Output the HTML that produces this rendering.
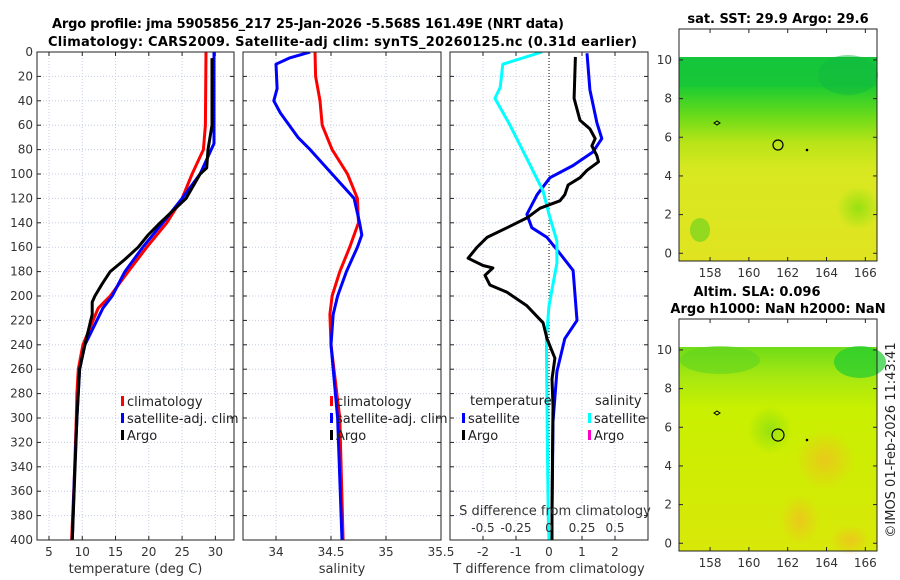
<!DOCTYPE html>
<html><head><meta charset="utf-8">
<style>
html,body{margin:0;padding:0;background:#fff;}
svg{display:block;font-family:"DejaVu Sans","Liberation Sans",sans-serif;}
.tk{font-size:12px;fill:#333;}
.ttl{font-size:13px;font-weight:bold;fill:#000;}
.lg{font-size:13px;fill:#222;}
</style></head>
<body>
<svg id="fig" width="900" height="580" viewBox="0 0 900 580" xmlns="http://www.w3.org/2000/svg">
<defs>
<clipPath id="c1"><rect x="37" y="52" width="197" height="488"/></clipPath>
<clipPath id="c2"><rect x="243" y="52" width="198" height="488"/></clipPath>
<clipPath id="c3"><rect x="450" y="52" width="198" height="488"/></clipPath>
<radialGradient id="or1" cx="0.5" cy="0.5" r="0.5"><stop offset="0" stop-color="#f0c020" stop-opacity="0.8"/><stop offset="1" stop-color="#f0c020" stop-opacity="0"/></radialGradient>
<radialGradient id="gr1" cx="0.5" cy="0.5" r="0.5"><stop offset="0" stop-color="#90e010" stop-opacity="0.9"/><stop offset="1" stop-color="#90e010" stop-opacity="0"/></radialGradient>
<linearGradient id="sst" x1="0" y1="0" x2="0" y2="1">
<stop offset="0" stop-color="#18c838"/><stop offset="0.15" stop-color="#20cc30"/><stop offset="0.3" stop-color="#70dc18"/><stop offset="0.42" stop-color="#b8e418"/><stop offset="0.55" stop-color="#d8e820"/><stop offset="1" stop-color="#e0e420"/></linearGradient>
<linearGradient id="sla" x1="0" y1="0" x2="0" y2="1">
<stop offset="0" stop-color="#70dc18"/><stop offset="0.15" stop-color="#a8e810"/><stop offset="0.3" stop-color="#c8f000"/><stop offset="1" stop-color="#d8e808"/></linearGradient>
</defs>

<text class="ttl" x="52" y="28" textLength="512">Argo profile: jma 5905856_217 25-Jan-2026 -5.568S 161.49E (NRT data)</text>
<text class="ttl" x="48" y="46" textLength="589">Climatology: CARS2009. Satellite-adj clim: synTS_20260125.nc (0.31d earlier)</text>

<g id="p1"></g>
<g id="p2"></g>
<g id="p3"></g>

<g>
<text class="ttl" x="778" y="23" text-anchor="middle">sat. SST: 29.9 Argo: 29.6</text>
<rect x="679" y="57" width="198" height="204" fill="url(#sst)"/>
<rect x="679" y="57" width="198" height="30" fill="#10c040" opacity="0.4"/>
<ellipse cx="848" cy="75" rx="30" ry="20" fill="#10b840" opacity="0.5"/>
<ellipse cx="858" cy="208" rx="22" ry="22" fill="url(#gr1)"/>
<ellipse cx="700" cy="230" rx="10" ry="12" fill="#60d020" opacity="0.6"/>
<rect x="679" y="29" width="198" height="232" fill="none" stroke="#222"/>
<circle cx="778" cy="145" r="5" fill="none" stroke="#000" stroke-width="1.2"/>
<path d="M714 123 l3 -2 l3 2 l-3 2z" fill="none" stroke="#000"/>
<circle cx="807" cy="150" r="1.3" fill="#000"/>
<g id="m1ax"></g>
</g>
<g>
<text class="ttl" x="757" y="296" text-anchor="middle">Altim. SLA: 0.096</text>
<text class="ttl" x="778" y="313" text-anchor="middle">Argo h1000: NaN h2000: NaN</text>
<rect x="679" y="347" width="198" height="204" fill="url(#sla)"/>
<ellipse cx="720" cy="360" rx="40" ry="14" fill="#60d420" opacity="0.6"/>
<ellipse cx="860" cy="362" rx="26" ry="16" fill="#20cc30" opacity="0.7"/>
<ellipse cx="770" cy="430" rx="22" ry="24" fill="url(#gr1)"/>
<ellipse cx="825" cy="460" rx="30" ry="30" fill="url(#or1)"/>
<ellipse cx="800" cy="520" rx="20" ry="25" fill="url(#or1)"/>
<ellipse cx="850" cy="540" rx="20" ry="15" fill="url(#or1)"/>
<rect x="679" y="319" width="198" height="232" fill="none" stroke="#222"/>
<circle cx="778" cy="435" r="6" fill="none" stroke="#000" stroke-width="1.2"/>
<path d="M714 413 l3 -2 l3 2 l-3 2z" fill="none" stroke="#000"/>
<circle cx="807" cy="440" r="1.3" fill="#000"/>
<g id="m2ax"></g>
</g>
<text transform="translate(895,440) rotate(-90)" text-anchor="middle" style="font-size:13px;fill:#222">©IMOS 01-Feb-2026 11:43:41</text>
</svg>

<script>
const tempClimDepth=[0,60,80,100,120,140,160,180,200,210,240,260,280,300,350,400];
const tempClim=[28.6,28.5,28.2,26.5,25.0,22.7,19.7,16.9,14.2,12.4,10.1,9.4,9.2,9.1,8.8,8.4];
const tempSatDepth=[0,75,100,120,140,160,180,200,210,240,260,300,350,400];
const tempSat=[29.8,29.8,27.7,25.0,22.1,19.1,16.4,14.5,13.1,10.4,9.6,9.2,8.8,8.5];
const tempArgoDepth=[5,60,80,95,100,120,140,150,160,170,180,190,200,205,215,240,260,300,400];
const tempArgo=[29.5,29.5,28.9,28.7,27.7,25.6,21.7,19.9,18.4,16.4,14.2,13.0,11.9,11.5,11.5,10.4,9.6,9.2,8.5];

const salClimDepth=[0,20,40,60,80,100,120,140,160,180,200,215,240,300,400];
const salClim=[34.355,34.36,34.40,34.42,34.51,34.65,34.74,34.75,34.67,34.58,34.51,34.49,34.50,34.58,34.61];
const salSatDepth=[0,5,10,30,40,50,70,80,100,120,140,150,160,180,200,215,240,300,400];
const salSat=[34.31,34.12,34.0,34.01,33.98,34.04,34.2,34.31,34.51,34.71,34.76,34.78,34.74,34.64,34.56,34.52,34.50,34.56,34.6];

const tDiffArgoDepth=[4,38,56,63,71,77,85,90,97,103,109,117,122,128,136,144,152,160,169,175,177,183,191,197,208,222,235,251,268,290,372,400];
const tDiffArgo=[0.8,0.76,0.94,1.24,1.4,1.3,1.45,1.5,1.15,0.94,0.58,0.48,0.33,-0.27,-0.67,-1.27,-1.88,-2.18,-2.45,-2.0,-1.7,-1.94,-1.79,-1.27,-0.67,-0.18,-0.06,0.18,0.09,0.12,0.09,0.09];
const tDiffSatDepth=[1,31,58,71,82,93,103,117,133,144,152,163,179,220,235,262,303,383,400];
const tDiffSat=[1.15,1.24,1.45,1.6,1.33,0.73,0.03,-0.36,-0.67,-0.52,-0.06,0.27,0.73,0.85,0.48,0.24,0.12,0.09,0.09];
const sDiffSatDepth=[0,10,29,38,59,87,114,133,155,173,208,235,290,344,383,400];
const sDiffSat=[-0.053,-0.35,-0.37,-0.41,-0.3,-0.17,-0.045,0,0.06,0.06,0,-0.02,-0.015,-0.01,-0.005,0];

const depthTicks=[0,20,40,60,80,100,120,140,160,180,200,220,240,260,280,300,320,340,360,380,400];
const tempTicks=[5,10,15,20,25,30];
const salTicks=[34,34.5,35,35.5];
const tDiffTicks=[-2,-1,0,1,2];
const sDiffTicks=[-0.5,-0.25,0,0.25,0.5];
const lonTicks=[158,160,162,164,166];
const latTicks=[0,2,4,6,8,10];

const y0=52,y1=540;
const yD=d=>y0+(d/400)*(y1-y0);
const xT=t=>37+(t-3.2)/(32.8-3.2)*197;
const xS=s=>243+(s-33.7)/(35.5-33.7)*198;
const xTD=v=>450+(v+3)/6*198;
const xSD=v=>450+(v+0.75)/1.5*198;
const xLon=l=>679+(l-156.4)/(166.6-156.4)*198;
const yLat1=a=>29+(11.6-a)/(11.6+0.4)*232;
const yLat2=a=>319+(11.6-a)/(11.6+0.4)*232;

const NS='http://www.w3.org/2000/svg';
function mk(tag,attrs,parent){const e=document.createElementNS(NS,tag);for(const k in attrs)e.setAttribute(k,attrs[k]);parent.appendChild(e);return e;}

function frame(g,x,w,xticks,xs,labels,showY,xlabel){
  for(const d of depthTicks){ if(d===0||d===400)continue;
    const l=mk('line',{x1:x,x2:x+w,y1:yD(d),y2:yD(d),stroke:'#c4cce8','stroke-dasharray':'1,2','stroke-width':1},g);
    
    
  }
  xticks.forEach(v=>{const X=xs(v); if(X<=x+1||X>=x+w-1)return;
    const l=mk('line',{x1:X,x2:X,y1:y0,y2:y1,stroke:'#c4cce8','stroke-dasharray':'1,2'},g);
    
    
  });
  for(const d of depthTicks){
    mk('line',{x1:x,x2:x+4,y1:yD(d),y2:yD(d),stroke:'#222'},g);
    mk('line',{x1:x+w-4,x2:x+w,y1:yD(d),y2:yD(d),stroke:'#222'},g);
    if(showY){const t=mk('text',{x:x-4,y:yD(d)+4,'text-anchor':'end',class:'tk'},g);t.textContent=d;
      
      }
  }
  xticks.forEach((v,i)=>{const X=xs(v);
    mk('line',{x1:X,x2:X,y1:y1,y2:y1-4,stroke:'#222'},g);
    mk('line',{x1:X,x2:X,y1:y0,y2:y0+4,stroke:'#222'},g);
    if(labels){const t=mk('text',{x:X,y:556,'text-anchor':'middle',class:'tk'},g);t.textContent=labels[i];
      
      }
  });
  const t=mk('text',{x:x+w/2,y:573,'text-anchor':'middle',class:'tk',style:'font-size:13px'},g);t.textContent=xlabel;
  
  
}
function line(g,xs,ds,vals,color,w,name,clip){
  const p=ds.map((d,i)=>(i?'L':'M')+xs(vals[i]).toFixed(1)+' '+yD(d).toFixed(1)).join(' ');
  const e=mk('path',{d:p,fill:'none',stroke:color,'stroke-width':w,'stroke-linejoin':'round','clip-path':'url(#'+clip+')'},g);
  
  
}
function box(g,x,w){const r=mk('rect',{x:x,y:y0,width:w,height:y1-y0,fill:'none',stroke:'#222'},g);
  
  }
function legend(g,x,y,items){
  items.forEach((it,i)=>{const yy=y+i*17;
    mk('rect',{x:x,y:yy-9,width:3,height:10,fill:it[1]},g);
    const t=mk('text',{x:x+6,y:yy+1,class:'lg'},g);t.textContent=it[0];
    
    
  });
}

const p1=document.getElementById('p1');
frame(p1,37,197,tempTicks,xT,tempTicks.map(String),true,'temperature (deg C)');
line(p1,xT,tempClimDepth,tempClim,'#ff0000',3,'temperature-climatology-line','c1');
line(p1,xT,tempSatDepth,tempSat,'#0000ff',3,'temperature-satellite-line','c1');
line(p1,xT,tempArgoDepth,tempArgo,'#000000',3,'temperature-argo-line','c1');
box(p1,37,197);
legend(p1,121,405,[['climatology','#ff0000'],['satellite-adj. clim','#0000ff'],['Argo','#000']]);

const p2=document.getElementById('p2');
frame(p2,243,198,salTicks,xS,salTicks.map(String),false,'salinity');
line(p2,xS,salClimDepth,salClim,'#ff0000',3,'salinity-climatology-line','c2');
line(p2,xS,salSatDepth,salSat,'#0000ff',3,'salinity-satellite-line','c2');
box(p2,243,198);
legend(p2,330,405,[['climatology','#ff0000'],['satellite-adj. clim','#0000ff'],['Argo','#000']]);

const p3=document.getElementById('p3');
frame(p3,450,198,tDiffTicks,xTD,tDiffTicks.map(String),false,'T difference from climatology');
const zl=mk('line',{x1:xTD(0),x2:xTD(0),y1:y0,y2:y1,stroke:'#000','stroke-dasharray':'1,2'},p3);


line(p3,xTD,tDiffSatDepth,tDiffSat,'#0000ff',3,'t-diff-satellite-line','c3');
line(p3,xSD,sDiffSatDepth,sDiffSat,'#00ffff',3,'s-diff-satellite-line','c3');
line(p3,xTD,tDiffArgoDepth,tDiffArgo,'#000000',3,'t-diff-argo-line','c3');
box(p3,450,198);
const st=mk('text',{x:xTD(0)+6,y:515,'text-anchor':'middle',class:'tk',style:'font-size:13px'},p3);st.textContent='S difference from climatology';


sDiffTicks.forEach(v=>{const t=mk('text',{x:xSD(v),y:532,'text-anchor':'middle',class:'tk'},p3);t.textContent=String(v);
  
  });
let tt=mk('text',{x:470,y:405,class:'lg'},p3);tt.textContent='temperature';


tt=mk('text',{x:595,y:405,class:'lg'},p3);tt.textContent='salinity';


legend(p3,462,422,[['satellite','#0000ff'],['Argo','#000']]);
legend(p3,588,422,[['satellite','#00ffff'],['Argo','#ff00cc']]);

function mapAxes(id,yL,top,bot){
  const g=document.getElementById(id);
  lonTicks.forEach(v=>{const X=xLon(v);
    mk('line',{x1:X,x2:X,y1:bot,y2:bot-4,stroke:'#222'},g);
    mk('line',{x1:X,x2:X,y1:top,y2:top+4,stroke:'#222'},g);
    const t=mk('text',{x:X,y:bot+16,'text-anchor':'middle',class:'tk'},g);t.textContent=v;
    
    });
  latTicks.forEach(v=>{const Y=yL(v);
    mk('line',{x1:679,x2:683,y1:Y,y2:Y,stroke:'#222'},g);
    mk('line',{x1:873,x2:877,y1:Y,y2:Y,stroke:'#222'},g);
    const t=mk('text',{x:672,y:Y+4,'text-anchor':'end',class:'tk'},g);t.textContent=v;
    
    });
}
mapAxes('m1ax',yLat1,29,261);
mapAxes('m2ax',yLat2,319,551);
</script>
</body></html>
